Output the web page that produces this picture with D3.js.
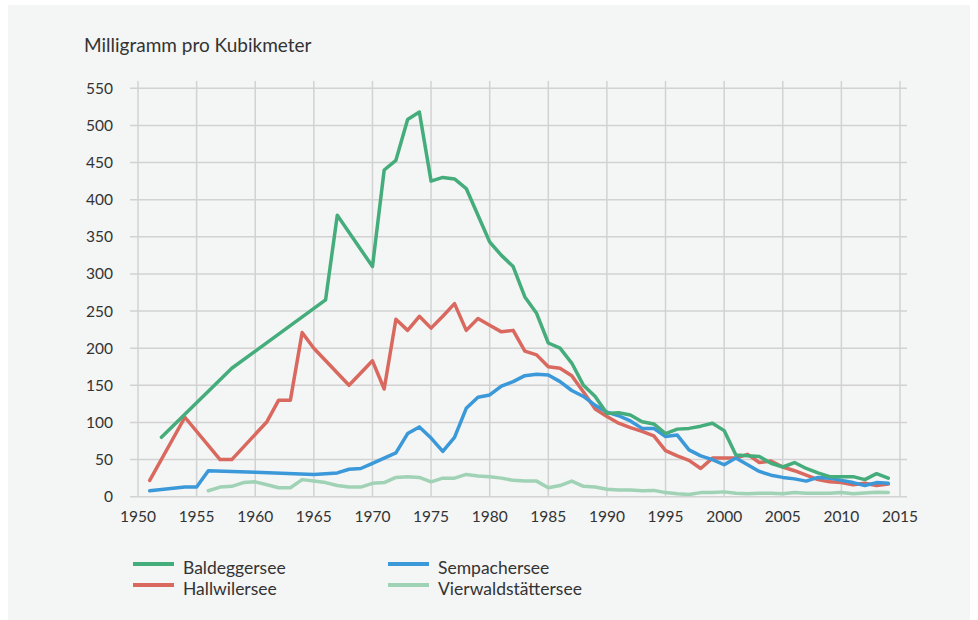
<!DOCTYPE html>
<html>
<head>
<meta charset="utf-8">
<script src="https://cdn.jsdelivr.net/npm/d3@7"></script>
<style>
  body { margin: 0; background: #fff; }
  svg { display: block; font-family: Lato, "Open Sans", sans-serif; }
</style>
</head>
<body>
<svg id="chart" width="978" height="620"></svg>
<script>
// Gesamtphosphor in Mittellandseen (mg/m³)
const yTicks = [0, 50, 100, 150, 200, 250, 300, 350, 400, 450, 500, 550];
const xTicks = [1950, 1955, 1960, 1965, 1970, 1975, 1980, 1985, 1990, 1995, 2000, 2005, 2010, 2015];

const baldeggYears = [1952, 1958, 1966, 1967, 1970, 1971, 1972, 1973, 1974, 1975, 1976, 1977, 1978, 1979, 1980, 1981, 1982, 1983, 1984, 1985, 1986, 1987, 1988, 1989, 1990, 1991, 1992, 1993, 1994, 1995, 1996, 1997, 1998, 1999, 2000, 2001, 2002, 2003, 2004, 2005, 2006, 2007, 2008, 2009, 2010, 2011, 2012, 2013, 2014];
const baldeggValues = [80, 173, 265, 379, 310, 440, 453, 508, 518, 425, 430, 428, 415, 379, 343, 325, 310, 269, 247, 207, 200, 180, 150, 135, 112, 113, 110, 101, 98, 85, 91, 92, 95, 99, 89, 56, 55, 54, 45, 40, 46, 38, 32, 27, 27, 27, 23, 31, 25];

const hallwilYears = [1951, 1954, 1957, 1958, 1961, 1962, 1963, 1964, 1965, 1968, 1970, 1971, 1972, 1973, 1974, 1975, 1976, 1977, 1978, 1979, 1980, 1981, 1982, 1983, 1984, 1985, 1986, 1987, 1988, 1989, 1990, 1991, 1992, 1993, 1994, 1995, 1996, 1997, 1998, 1999, 2000, 2001, 2002, 2003, 2004, 2005, 2006, 2007, 2008, 2009, 2010, 2011, 2012, 2013, 2014];
const hallwilValues = [22, 107, 50, 50, 101, 130, 130, 221, 200, 150, 183, 145, 239, 224, 243, 227, 243, 260, 224, 240, 231, 222, 224, 196, 191, 175, 173, 163, 141, 118, 108, 99, 93, 88, 82, 62, 55, 49, 38, 52, 52, 52, 57, 46, 48, 40, 35, 29, 23, 20, 19, 16, 18, 15, 17];

const sempachYears = [1951, 1954, 1955, 1956, 1960, 1965, 1967, 1968, 1969, 1970, 1971, 1972, 1973, 1974, 1975, 1976, 1977, 1978, 1979, 1980, 1981, 1982, 1983, 1984, 1985, 1986, 1987, 1988, 1989, 1990, 1991, 1992, 1993, 1994, 1995, 1996, 1997, 1998, 1999, 2000, 2001, 2002, 2003, 2004, 2005, 2006, 2007, 2008, 2009, 2010, 2011, 2012, 2013, 2014];
const sempachValues = [8, 13, 13, 35, 33, 30, 32, 37, 38, 45, 52, 59, 85, 94, 79, 61, 80, 119, 134, 137, 149, 155, 163, 165, 164, 155, 143, 135, 123, 114, 109, 102, 92, 92, 81, 83, 63, 55, 50, 43, 52, 43, 34, 29, 26, 24, 21, 26, 25, 22, 19, 15, 19, 18];

const vierwaldYears = [1956, 1957, 1958, 1959, 1960, 1961, 1962, 1963, 1964, 1965, 1966, 1967, 1968, 1969, 1970, 1971, 1972, 1973, 1974, 1975, 1976, 1977, 1978, 1979, 1980, 1981, 1982, 1983, 1984, 1985, 1986, 1987, 1988, 1989, 1990, 1991, 1992, 1993, 1994, 1995, 1996, 1997, 1998, 1999, 2000, 2001, 2002, 2003, 2004, 2005, 2006, 2007, 2008, 2009, 2010, 2011, 2012, 2013, 2014];
const vierwaldValues = [8, 13, 14, 19, 20, 16, 12, 12, 23, 21, 19, 15, 13, 13, 18, 19, 26, 27, 26, 20, 25, 25, 30, 28, 27, 25, 22, 21, 21, 12, 15, 21, 14, 13, 10, 9, 9, 8, 8.5, 5.5, 4, 3, 5.5, 5.5, 6.5, 4.5, 4, 4.5, 4.5, 4, 5.5, 4.5, 4.5, 4.5, 5.5, 4, 5, 6, 5.5];

const seriesNames = ['Baldeggersee', 'Hallwilersee', 'Sempachersee', 'Vierwaldstättersee'];
const seriesColors = ['#45ad7b', '#d9695f', '#3b98d9', '#a0d2b5'];

const series = [
  { name: seriesNames[0], color: seriesColors[0], years: baldeggYears, values: baldeggValues },
  { name: seriesNames[1], color: seriesColors[1], years: hallwilYears, values: hallwilValues },
  { name: seriesNames[2], color: seriesColors[2], years: sempachYears, values: sempachValues },
  { name: seriesNames[3], color: seriesColors[3], years: vierwaldYears, values: vierwaldValues }
];

const svg = d3.select('#chart');

// grauer Hintergrund
svg.append('rect')
  .attr('x', 8).attr('y', 5)
  .attr('width', 962).attr('height', 620)
  .attr('fill', '#f4f5f5');

const x = d3.scaleLinear().domain([1950, 2015]).range([138, 900]);
const y = d3.scaleLinear().domain([0, 550]).range([496.7, 88.3]);

// Gitter
const grid = svg.append('g').attr('stroke', '#d2d2d2').attr('stroke-width', 1.5);
grid.selectAll('.h').data(yTicks).enter().append('line')
  .attr('x1', 130).attr('x2', 907)
  .attr('y1', d => y(d)).attr('y2', d => y(d));
grid.selectAll('.v').data(xTicks).enter().append('line')
  .attr('x1', d => x(d)).attr('x2', d => x(d))
  .attr('y1', 81).attr('y2', y(0));

// Achsenbeschriftung
svg.append('g').selectAll('text').data(yTicks).enter().append('text')
  .attr('x', 113).attr('y', d => y(d) + 5.5)
  .attr('text-anchor', 'end')
  .attr('font-size', 15.5).attr('fill', '#333')
  .text(d => d);

svg.append('g').selectAll('text').data(xTicks).enter().append('text')
  .attr('x', d => x(d)).attr('y', 522)
  .attr('text-anchor', 'middle')
  .attr('font-size', 15.5).attr('fill', '#333')
  .text(d => d);

svg.append('text')
  .attr('x', 84).attr('y', 52)
  .attr('font-size', 19).attr('fill', '#333')
  .text('Milligramm pro Kubikmeter');

// Linien (hellste zuerst, damit die kräftigen oben liegen)
const line = d3.line()
  .x(d => x(d[0]))
  .y(d => y(d[1]));

const drawOrder = [3, 1, 2, 0];
svg.append('g').selectAll('path').data(drawOrder.map(i => series[i])).enter().append('path')
  .attr('d', s => line(s.years.map((yr, i) => [yr, s.values[i]])))
  .attr('fill', 'none')
  .attr('stroke', s => s.color)
  .attr('stroke-width', 3.5)
  .attr('stroke-linejoin', 'round')
  .attr('stroke-linecap', 'round');

// Legende
const legendPos = [[133, 564], [133, 585], [388, 564], [388, 585]];
const legend = svg.append('g').selectAll('g').data(series).enter().append('g')
  .attr('transform', (d, i) => `translate(${legendPos[i][0]}, ${legendPos[i][1]})`);
legend.append('line')
  .attr('x1', 0).attr('x2', 41)
  .attr('stroke', d => d.color).attr('stroke-width', 4);
legend.append('text')
  .attr('x', 50).attr('y', 10)
  .attr('font-size', 17.5).attr('fill', '#333')
  .text(d => d.name);
</script>
</body>
</html>
